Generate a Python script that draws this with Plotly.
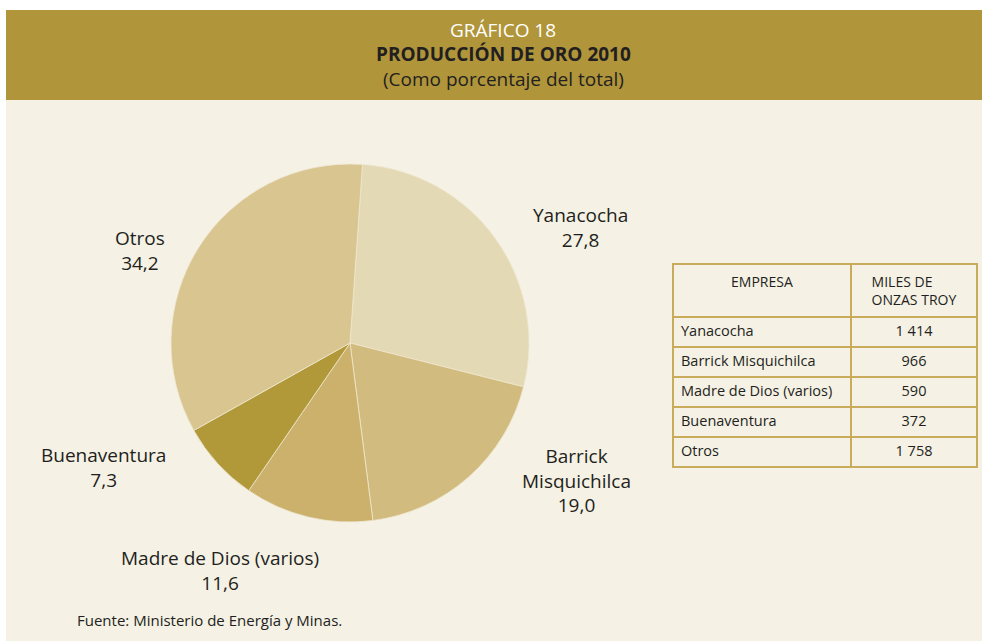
import plotly.graph_objs as go

# data
empresas = ["Yanacocha", "Barrick Misquichilca", "Madre de Dios (varios)", "Buenaventura", "Otros"]
porcentajes = [27.8, 19.0, 11.6, 7.3, 34.2]
miles_onzas = [1414, 966, 590, 372, 1758]
pie_labels = ["Yanacocha<br>27,8", "Barrick<br>Misquichilca<br>19,0",
              "Madre de Dios (varios)<br>11,6", "Buenaventura<br>7,3", "Otros<br>34,2"]

COLORS = ["#E4D9B5", "#D2BB7E", "#CBB16C", "#B19838", "#D9C590"]
GOLD = "#B0953A"
CREAM = "#F5F1E5"
TEXT = "#231F20"
W, H = 982, 641

# label centres in pixels (layout only)
label_pos = [(580, 227), (576, 480), (220, 570), (103, 467), (140, 250)]


def px(x, y):
    return x / W, 1 - y / H


def fmt(v):
    return "{:,}".format(v).replace(",", " ")


pie = go.Pie(labels=empresas, values=porcentajes, sort=False, direction="clockwise",
             rotation=4, textinfo="none", hoverinfo="label+percent", showlegend=False,
             marker=dict(colors=COLORS, line=dict(color="#EFE7CF", width=0.8)),
             domain=dict(x=[(350 - 179) / W, (350 + 179) / W], y=[1 - 522 / H, 1 - 164 / H]))

table = go.Table(
    domain=dict(x=[673 / W, 977 / W], y=[0.2, 1 - 264 / H]),
    columnwidth=[178, 126],
    header=dict(values=["<br>EMPRESA", "MILES DE<br>ONZAS TROY"], height=47,
                align="center", fill=dict(color=CREAM),
                line=dict(color="#C8AC5C", width=1.5),
                font=dict(family="Open Sans", size=14, color=TEXT)),
    cells=dict(values=[empresas, [fmt(v) for v in miles_onzas]], height=30,
               align=["left", "center"], fill=dict(color=CREAM),
               line=dict(color="#C8AC5C", width=1.5),
               font=dict(family="Open Sans", size=14.5, color=TEXT)))

annotations = []
for text, (x, y) in zip(pie_labels, label_pos):
    ax, ay = px(x, y)
    annotations.append(dict(text=text, x=ax, y=ay, xref="paper", yref="paper",
                            xanchor="center", yanchor="middle", showarrow=False,
                            font=dict(family="Open Sans", size=19, color=TEXT)))

titles = [("GRÁFICO 18", 30, "white"),
          ("<b>PRODUCCIÓN DE ORO 2010</b>", 54, TEXT),
          ("(Como porcentaje del total)", 79, TEXT)]
for text, y, color in titles:
    ax, ay = px(503, y)
    annotations.append(dict(text=text, x=ax, y=ay, xref="paper", yref="paper",
                            xanchor="center", yanchor="middle", showarrow=False,
                            font=dict(family="Open Sans", size=19, color=color)))

sx, sy = px(75, 620)
annotations.append(dict(text="Fuente: Ministerio de Energía y Minas.", x=sx, y=sy,
                        xref="paper", yref="paper", xanchor="left", yanchor="middle",
                        showarrow=False, font=dict(family="Open Sans", size=15, color=TEXT)))

shapes = [
    dict(type="rect", xref="paper", yref="paper", x0=6 / W, x1=1, y0=0, y1=1 - 100 / H,
         fillcolor=CREAM, line=dict(width=0), layer="below"),
    dict(type="rect", xref="paper", yref="paper", x0=6 / W, x1=1, y0=1 - 100 / H, y1=1 - 10 / H,
         fillcolor=GOLD, line=dict(width=0), layer="below"),
]

layout = go.Layout(width=W, height=H, margin=dict(l=0, r=0, t=0, b=0),
                   paper_bgcolor="white", plot_bgcolor="white",
                   annotations=annotations, shapes=shapes)

fig = go.Figure(data=[pie, table], layout=layout)
fig.write_html("out.html", config={"displayModeBar": False},
               post_script="document.body.style.margin = '0';")
